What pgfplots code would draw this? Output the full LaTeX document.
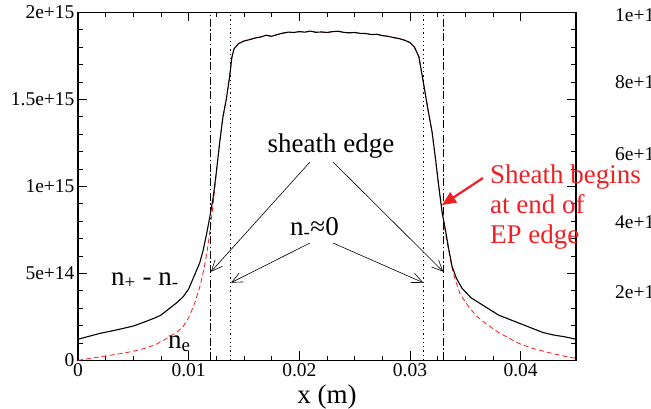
\documentclass[border=0pt]{standalone}
\usepackage{fontspec}
\setmainfont{Liberation Serif}
\usepackage{pgfplots}
\pgfplotsset{compat=1.18}
\usetikzlibrary{arrows.meta}
\definecolor{nered}{RGB}{238,32,36}

\begin{document}
\begin{tikzpicture}
\begin{axis}[
  scale only axis, width=498pt, height=348pt,
  xmin=0, xmax=0.045, ymin=0, ymax=2e15,
  axis line style={line width=1.1pt},
  tick style={line width=0.8pt, black},
  tick align=inside,
  major tick length=9pt, minor tick length=4.5pt,
  xtick={0,0.01,0.02,0.03,0.04},
  xticklabels={0,0.01,0.02,0.03,0.04},
  minor x tick num=3,
  ytick={0,5e14,1e15,1.5e15,2e15},
  yticklabels={0,5e+14,1e+15,1.5e+15,2e+15},
  minor y tick num=4,
  scaled x ticks=false, scaled y ticks=false,
  /pgf/number format/assume math mode=true,
  tick label style={font=\rmfamily\fontsize{19.5}{20}\selectfont},
  xlabel={x (m)},
  xlabel style={font=\fontsize{27}{30}\selectfont, yshift=-1pt},
]
\coordinate (O) at (rel axis cs:0,0);
% n_e (red dashed)
\addplot[nered, line width=0.8pt, dash pattern=on 5pt off 3pt] coordinates {
 (0,0) (0.001,1.0e13) (0.002,2.0e13) (0.003,3.0e13) (0.004,4.0e13)
 (0.005,5.2e13) (0.006,6.8e13) (0.007,9.0e13) (0.008,1.25e14)
 (0.009,1.65e14) (0.0095,1.95e14) (0.010,2.45e14) (0.0105,3.2e14)
 (0.011,4.2e14) (0.0114,5.3e14) (0.0117,6.4e14) (0.0120,7.8e14)
 (0.0123,9.5e14) (0.0125,1.08e15) (0.0128,1.25e15) (0.0131,1.40e15)
 (0.0134,1.50e15) (0.0137,1.63e15) (0.0139,1.74e15) (0.0141,1.79e15)
 (0.0145,1.82e15)
 (0.0150,1.835e15) (0.0155,1.843e15) (0.0160,1.852e15) (0.0165,1.858e15)
 (0.0170,1.868e15) (0.0175,1.862e15) (0.0180,1.872e15) (0.0185,1.880e15)
 (0.0190,1.886e15) (0.0195,1.884e15) (0.0200,1.889e15) (0.0205,1.886e15)
 (0.0210,1.892e15) (0.0215,1.885e15) (0.0220,1.887e15) (0.0225,1.884e15)
 (0.0230,1.889e15) (0.0235,1.891e15) (0.0240,1.885e15) (0.0245,1.882e15)
 (0.0250,1.884e15) (0.0255,1.879e15) (0.0260,1.878e15) (0.0265,1.872e15)
 (0.0270,1.874e15) (0.0275,1.866e15) (0.0280,1.862e15) (0.0285,1.855e15)
 (0.0290,1.849e15) (0.0295,1.840e15) (0.0300,1.826e15) (0.0304,1.80e15)
 (0.0308,1.745e15) (0.0312,1.60e15) (0.0316,1.45e15) (0.0320,1.31e15)
 (0.0323,1.16e15) (0.0326,1.0e15)
 (0.0330,8.2e14) (0.0333,6.9e14) (0.0335,6.3e14) (0.0338,5.3e14)
 (0.0341,4.6e14) (0.0345,3.85e14) (0.0353,3.08e14) (0.0360,2.55e14)
 (0.0368,2.13e14) (0.0380,1.6e14) (0.0398,9.8e13) (0.0410,7.0e13)
 (0.0428,4.0e13) (0.0440,2.3e13) (0.0450,1.1e13)
};
% n+ - n- (black)
\addplot[black, line width=1.1pt] coordinates {
 (0,1.21e14) (0.001,1.38e14) (0.002,1.55e14) (0.003,1.68e14)
 (0.004,1.82e14) (0.005,1.97e14) (0.006,2.2e14) (0.007,2.45e14)
 (0.0075,2.6e14) (0.008,2.85e14) (0.0085,3.1e14) (0.009,3.35e14)
 (0.0095,3.65e14) (0.0100,4.1e14) (0.0105,4.85e14) (0.0110,5.6e14)
 (0.0113,6.3e14) (0.0116,7.2e14) (0.0119,8.2e14) (0.0122,9.3e14)
 (0.0125,1.08e15) (0.0128,1.25e15) (0.0131,1.40e15) (0.0134,1.50e15)
 (0.0137,1.63e15) (0.0139,1.74e15) (0.0141,1.79e15) (0.0145,1.82e15)
 (0.0150,1.835e15) (0.0155,1.843e15) (0.0160,1.852e15) (0.0165,1.858e15)
 (0.0170,1.868e15) (0.0175,1.862e15) (0.0180,1.872e15) (0.0185,1.880e15)
 (0.0190,1.886e15) (0.0195,1.884e15) (0.0200,1.889e15) (0.0205,1.886e15)
 (0.0210,1.892e15) (0.0215,1.885e15) (0.0220,1.887e15) (0.0225,1.884e15)
 (0.0230,1.889e15) (0.0235,1.891e15) (0.0240,1.885e15) (0.0245,1.882e15)
 (0.0250,1.884e15) (0.0255,1.879e15) (0.0260,1.878e15) (0.0265,1.872e15)
 (0.0270,1.874e15) (0.0275,1.866e15) (0.0280,1.862e15) (0.0285,1.855e15)
 (0.0290,1.849e15) (0.0295,1.840e15) (0.0300,1.826e15) (0.0304,1.80e15)
 (0.0308,1.745e15) (0.0312,1.60e15) (0.0316,1.45e15) (0.0320,1.31e15)
 (0.0323,1.16e15) (0.0326,1.0e15) (0.0329,8.5e14) (0.0332,7.5e14)
 (0.0335,6.4e14) (0.0338,5.4e14) (0.0342,4.7e14) (0.0347,4.14e14)
 (0.0355,3.6e14) (0.0368,3.08e14) (0.0380,2.6e14) (0.0390,2.35e14)
 (0.0400,2.1e14) (0.0410,1.85e14) (0.0420,1.6e14) (0.0430,1.45e14)
 (0.0440,1.35e14) (0.0450,1.21e14)
};
% vertical markers
\addplot[black, line width=0.9pt, dash pattern=on 8pt off 2.5pt on 1.5pt off 2.5pt] coordinates {(0.012,0) (0.012,2e15)};
\addplot[black, line width=0.9pt, dash pattern=on 8pt off 2.5pt on 1.5pt off 2.5pt] coordinates {(0.033,0) (0.033,2e15)};
\addplot[black, line width=0.9pt, dash pattern=on 1.3pt off 3pt] coordinates {(0.0138,0) (0.0138,2e15)};
\addplot[black, line width=0.9pt, dash pattern=on 1.3pt off 3pt] coordinates {(0.0312,0) (0.0312,2e15)};
\end{axis}
\pgfresetboundingbox
\begin{scope}[shift={(O)}]
\begin{scope}[x=1pt, y=-1pt, shift={(-78,-360.3)}]
\path[use as bounding box] (0,0) rectangle (651,408);
\tikzset{lbl/.style={font=\fontsize{27}{30}\selectfont, inner sep=0pt},
  barb/.style={-{Straight Barb[length=11pt,width=10pt]}, line width=0.6pt}}
\node[lbl, anchor=base] at (331,152) {sheath edge};
\draw[barb] (310,162) -- (211,271.7);
\draw[barb] (333,162) -- (443.3,271.7);
\node[lbl, anchor=base west] at (290,235) {n\textsubscript{-}≈0};
\draw[barb] (310,243) -- (231,282.7);
\draw[barb] (333,243) -- (423.3,282.7);
\node[lbl, anchor=base west] at (111,285) {n\textsubscript{+} - n\textsubscript{-}};
\node[lbl, anchor=base west] at (168,348) {n\textsubscript{e}};
\node[lbl, anchor=base west, text=nered] at (490,183) {Sheath begins};
\node[lbl, anchor=base west, text=nered] at (490,213) {at end of};
\node[lbl, anchor=base west, text=nered] at (490,243) {EP edge};
\draw[nered, line width=2.2pt, -{Triangle[length=14pt,width=12pt]}] (483,178) -- (442,205);
\foreach \yy/\tt in {15/1e+15, 82/8e+14, 154/6e+14, 222/4e+14, 292/2e+14}
  \node[font=\fontsize{19.5}{20}\selectfont, inner sep=0pt, anchor=west] at (615,\yy) {\tt};
\end{scope}
\end{scope}
\end{tikzpicture}
\end{document}
